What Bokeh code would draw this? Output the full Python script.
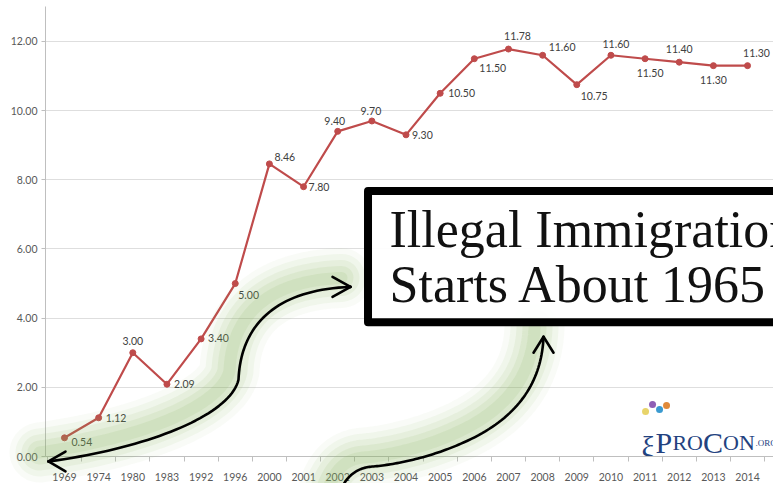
import numpy as np
from bokeh.plotting import figure
from bokeh.models import FixedTicker, Range1d
from bokeh.core.properties import value
from bokeh.embed import file_html
from bokeh.resources import INLINE

# ---------------- data ----------------
years = ["1969", "1974", "1980", "1983", "1992", "1996", "2000", "2001", "2002", "2003", "2004",
         "2005", "2006", "2007", "2008", "2009", "2010", "2011", "2012", "2013", "2014"]
values = [0.54, 1.12, 3.00, 2.09, 3.40, 5.00, 8.46, 7.80, 9.40, 9.70, 9.30,
          10.50, 11.50, 11.78, 11.60, 10.75, 11.60, 11.50, 11.40, 11.30, 11.30]
y_ticks = [0, 2, 4, 6, 8, 10, 12]
note_lines = ["Illegal Immigration", "Starts About 1965"]

# data-label placement (screen px) -- styling only
lab_dx = [7, 7, 0, 7, 7, 3, 5, 5, -3, -1, 6, 8, 5, 9, 6, 4, 5, 5, 0, 0, 9]
lab_dy = [4, 0, -12, 0, -1, 11, -7, 0, -10, -10, 0, 0, 9, -13, -8, 11, -11, 14, -13, 14, -13]
lab_al = ["left", "left", "center", "left", "left", "left", "left", "left", "center", "center", "left",
          "left", "left", "center", "left", "left", "center", "center", "center", "center", "center"]

xs = list(range(len(years)))
labels = [f"{v:.2f}" for v in values]

RED = "#bf4b4b"
AX = "#bfbfbf"
TXT = "#595959"

p = figure(width=773, height=483, output_backend="svg", toolbar_location=None,
           x_range=Range1d(-0.556, 20.76), y_range=Range1d(0, 13.01),
           min_border_left=45, min_border_right=0, min_border_top=6, min_border_bottom=26)
p.outline_line_color = None
p.background_fill_color = "white"

# axes
p.xaxis.ticker = FixedTicker(ticks=xs, minor_ticks=[i - 0.5 for i in range(len(years) + 1)])
p.xaxis.major_label_overrides = {i: y for i, y in enumerate(years)}
p.xaxis.major_tick_out = 0
p.xaxis.major_tick_in = 0
p.xaxis.minor_tick_out = 5
p.xaxis.minor_tick_in = 0
p.xaxis.minor_tick_line_color = AX
p.xaxis.axis_line_color = AX
p.xaxis.major_label_standoff = 11
p.xaxis.major_label_text_font = "Lato"
p.xaxis.major_label_text_font_size = "10.5px"
p.xaxis.major_label_text_color = TXT

p.yaxis.ticker = FixedTicker(ticks=y_ticks)
p.yaxis.major_label_overrides = {t: f"{t:.2f}" for t in y_ticks}
p.yaxis.major_tick_out = 4
p.yaxis.major_tick_in = 0
p.yaxis.minor_tick_line_color = None
p.yaxis.major_tick_line_color = AX
p.yaxis.axis_line_color = AX
p.yaxis.major_label_standoff = 4
p.yaxis.major_label_text_font = "Lato"
p.yaxis.major_label_text_font_size = "10.5px"
p.yaxis.major_label_text_color = TXT

p.xgrid.grid_line_color = None
p.ygrid.grid_line_color = "#dedede"
p.ygrid.ticker = FixedTicker(ticks=y_ticks[1:])

# helpers for annotations: reference-picture px -> data coords
def X(px):
    return (px - 64) / 34.15

def Y(py):
    return (457 - py) / 34.67

def path(segs, n=40, dx=0, dy=0):
    t = np.linspace(0, 1, n)[:, None]
    pts = []
    for P0, P1, P2, P3 in segs:
        P0, P1, P2, P3 = map(np.array, (P0, P1, P2, P3))
        b = (1 - t) ** 3 * P0 + 3 * (1 - t) ** 2 * t * P1 + 3 * (1 - t) * t ** 2 * P2 + t ** 3 * P3
        pts.extend(b.tolist() if not pts else b[1:].tolist())
    return [X(q[0] + dx) for q in pts], [Y(q[1] + dy) for q in pts]

# arrow paths (cubic segments) in picture px
arrow1 = [((48, 462), (150, 448), (230, 415), (238, 380)),
          ((238, 380), (240, 330), (270, 290), (350, 287))]
arrow2 = [((543, 337), (541, 385), (515, 420), (463, 443)),
          ((463, 443), (430, 458), (395, 465), (373, 467)),
          ((373, 467), (355, 468), (345, 478), (338, 495))]
a1x, a1y = path(arrow1)
a2x, a2y = path(arrow2)
g1x, g1y = path(arrow1, dx=-9, dy=-9)
g2x, g2y = path(arrow2, dx=-9, dy=-9)

# green glow (soft, offset up-left of the arrows)
for w, a in [(60, 0.05), (48, 0.07), (36, 0.09), (24, 0.11), (12, 0.12)]:
    r = p.multi_line([g1x, g2x], [g1y, g2y], line_color="#86b45c", line_width=w, line_alpha=a,
                     line_cap="round", line_join="round")
    r.level = "annotation"

# main series
p.line(xs, values, line_color=RED, line_width=2.2)
p.scatter(xs, values, size=6, fill_color=RED, line_color=RED)
p.text(xs, values, text=labels, x_offset=lab_dx, y_offset=lab_dy, text_align=lab_al,
       text_baseline="middle", text_font=value("Lato"), text_font_size="10.5px",
       text_color="#404040")

# arrows
r = p.multi_line([a1x, a2x], [a1y, a2y], line_color="black", line_width=2.6,
                 line_cap="round", line_join="round")
r.level = "annotation"
heads = [((48, 462), (65, 452)), ((48, 462), (65, 472)),
         ((350, 287), (332, 277)), ((350, 287), (332, 297)),
         ((543, 337), (533, 353)), ((543, 337), (553, 353))]
r = p.segment(x0=[X(h[0][0]) for h in heads], y0=[Y(h[0][1]) for h in heads],
              x1=[X(h[1][0]) for h in heads], y1=[Y(h[1][1]) for h in heads],
              line_color="black", line_width=2.6, line_cap="round")
r.level = "annotation"

# note box
box = p.quad(left=[X(367.5)], right=[X(900)], top=[Y(191)], bottom=[Y(322.5)],
             fill_color="white", fill_alpha=0.92, line_color="black", line_width=8,
             line_join="round")
box.level = "overlay"
t = p.text(x=[X(389), X(389)], y=[Y(229), Y(285)], text=note_lines, text_align="left",
           text_baseline="middle", text_font=value("Liberation Serif"), text_font_size="52px",
           text_color="#111111")
t.level = "overlay"

# ProCon logo
BLUE = "#23427f"
p.text(x=[X(641)], y=[Y(447)], text=["ξ"], text_font=value("Liberation Serif"),
       text_font_size="30px", text_color=BLUE, text_baseline="alphabetic")
p.scatter(x=[X(645), X(652), X(659), X(666)], y=[Y(412), Y(405), Y(410), Y(406)],
          size=7, fill_color=["#e8d46a", "#8e5fb5", "#3a9ad0", "#e08a3a"], line_color=None)
big = [("P", 655), ("C", 702.5)]
small = [("R", 672), ("O", 686.5), ("O", 722.5), ("N", 738.5)]
p.text(x=[X(b[1]) for b in big], y=[Y(443)] * 2, text=[b[0] for b in big],
       text_font=value("Liberation Serif"), text_font_size="30px", text_color=BLUE,
       text_baseline="alphabetic")
p.text(x=[X(s[1]) for s in small], y=[Y(443)] * 4, text=[s[0] for s in small],
       text_font=value("Liberation Serif"), text_font_size="22px", text_color=BLUE,
       text_baseline="alphabetic")
p.text(x=[X(755)], y=[Y(443)], text=[".ORG"], text_font=value("Liberation Serif"),
       text_font_size="9px", text_color=BLUE, text_baseline="alphabetic")

open("out.html", "w").write(file_html(p, INLINE))
